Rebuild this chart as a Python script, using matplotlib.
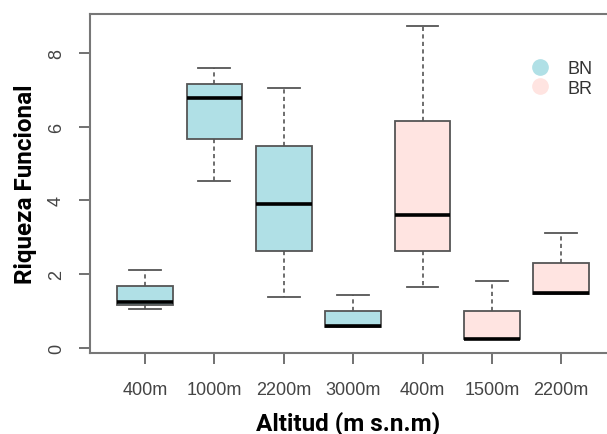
import matplotlib.pyplot as plt
from matplotlib.lines import Line2D

# box stats
labels = ['400m', '1000m', '2200m', '3000m', '400m', '1500m', '2200m']
groups = ['BN', 'BN', 'BN', 'BN', 'BR', 'BR', 'BR']
whislo = [1.06, 4.52, 1.39, 0.58, 1.66, 0.24, 1.47]
q1 = [1.17, 5.66, 2.62, 0.58, 2.62, 0.24, 1.47]
med = [1.24, 6.78, 3.90, 0.60, 3.60, 0.25, 1.49]
q3 = [1.69, 7.15, 5.47, 0.99, 6.14, 1.01, 2.30]
whishi = [2.12, 7.58, 7.05, 1.44, 8.73, 1.81, 3.11]

colors = {'BN': '#b0e0e6', 'BR': '#ffe4e1'}

plt.rcParams['font.family'] = ['Liberation Sans', 'DejaVu Sans']

fig = plt.figure(figsize=(6.07, 4.35), dpi=100)
ax = fig.add_axes([90 / 607, 1 - 354 / 435, 1 - 90 / 607, (354 - 15) / 435])

stats = []
for i in range(len(labels)):
    stats.append({'whislo': whislo[i], 'q1': q1[i], 'med': med[i],
                  'q3': q3[i], 'whishi': whishi[i], 'fliers': []})

bp = ax.bxp(stats, positions=range(1, 8), widths=0.8, capwidths=0.46,
            patch_artist=True, showfliers=False,
            boxprops=dict(edgecolor='#555555', linewidth=1.3),
            medianprops=dict(color='black', linewidth=2.6, solid_capstyle='butt'),
            whiskerprops=dict(color='#555555', linewidth=1.2, linestyle=(0, (2.5, 2))),
            capprops=dict(color='#555555', linewidth=1.3))
for patch, g in zip(bp['boxes'], groups):
    patch.set_facecolor(colors[g])

ax.set_xlim(0.206, 7.66)
ax.set_ylim(-0.135, 9.05)
ax.set_xticks(range(1, 8))
ax.set_xticklabels(labels)
ax.set_yticks([0, 2, 4, 6, 8])
ax.set_yticklabels(['0', '2', '4', '6', '8'], rotation=90, va='center')

ax.tick_params(axis='both', direction='out', length=8, width=1.3,
               color='#666666', labelcolor='#444444', labelsize=13)
ax.tick_params(axis='x', pad=12)
ax.tick_params(axis='y', pad=10)
for side in ['left', 'bottom', 'top']:
    ax.spines[side].set_color('#777777')
    ax.spines[side].set_linewidth(1.5)
ax.spines['right'].set_visible(False)

ax.set_xlabel('Altitud (m s.n.m)', fontsize=17.5, fontweight='bold',
              family='Roboto', labelpad=9)
ax.set_ylabel('Riqueza Funcional', fontsize=17.5, fontweight='bold',
              family='Roboto', labelpad=8)

handles = [Line2D([], [], marker='o', ls='', markersize=11, color=colors[g])
           for g in ['BN', 'BR']]
ax.legend(handles, ['BN', 'BR'], loc='center left', frameon=False,
          bbox_to_anchor=(0.805, 0.81), fontsize=13, handletextpad=0.5,
          labelspacing=0.15, labelcolor='#333333')

fig.savefig('out.png', dpi=100)
